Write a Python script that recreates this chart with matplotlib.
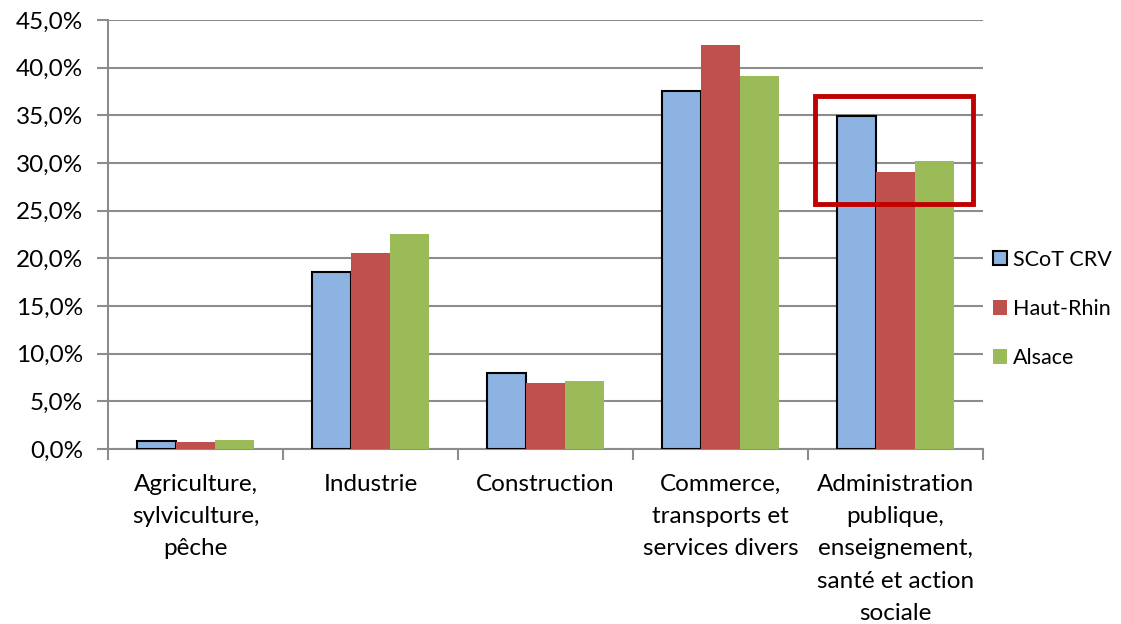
import matplotlib.pyplot as plt
import numpy as np
from matplotlib.patches import Rectangle

# données : part de l'emploi par secteur (%)
categories = ['Agriculture,\nsylviculture,\npêche', 'Industrie', 'Construction',
              'Commerce,\ntransports et\nservices divers',
              'Administration\npublique,\nenseignement,\nsanté et action\nsociale']
scot = [0.8, 18.6, 8.0, 37.6, 34.9]
haut_rhin = [0.7, 20.6, 6.9, 42.4, 29.1]
alsace = [0.9, 22.6, 7.1, 39.1, 30.2]

plt.rcParams['font.family'] = ['Lato', 'DejaVu Sans']

fig = plt.figure(figsize=(11.21, 6.24), dpi=100)
ax = fig.add_axes([0.0963, 0.2804, 0.7806, 0.6875])

x = np.arange(len(categories))
w = 0.223
grid_col = '#8c8c8c'
fs = 17.5

ax.bar(x - w, scot, w, color='#8db3e2', edgecolor='black', linewidth=1.5, label='SCoT CRV', zorder=3)
ax.bar(x, haut_rhin, w, color='#c0504d', label='Haut-Rhin', zorder=3)
ax.bar(x + w, alsace, w, color='#9bbb59', label='Alsace', zorder=3)

ax.set_xlim(-0.5, 4.5)
ax.set_ylim(0, 45)
ax.set_yticks(np.arange(0, 46, 5))
ax.set_yticklabels([f'{v:.1f}%'.replace('.', ',') for v in np.arange(0, 46, 5)], fontsize=fs)
ax.yaxis.grid(True, color=grid_col, linewidth=1.5, zorder=0)

# graduations de l'axe x aux frontières des catégories
ax.set_xticks(np.arange(-0.5, 5, 1))
ax.set_xticklabels([])
ax.set_xticks(x, minor=True)
ax.set_xticklabels(categories, minor=True, fontsize=fs, linespacing=1.66)
ax.tick_params(axis='x', which='minor', length=0, pad=18)
ax.tick_params(axis='x', which='major', length=8, width=1.5, color=grid_col)
ax.tick_params(axis='y', length=8, width=1.5, color=grid_col, pad=10)

for s in ['top', 'right']:
    ax.spines[s].set_visible(False)
for s in ['left', 'bottom']:
    ax.spines[s].set_color(grid_col)
    ax.spines[s].set_linewidth(1.5)

# cadre rouge autour du dernier groupe
ax.add_patch(Rectangle((3.54, 25.7), 0.90, 11.3, fill=False, edgecolor='#c00000',
                       linewidth=3.5, zorder=5, clip_on=False))

ax.legend(loc='center left', bbox_to_anchor=(0.872, 0.505), bbox_transform=fig.transFigure,
          frameon=False, fontsize=15.5, handlelength=0.65, handleheight=0.65,
          handletextpad=0.3, labelspacing=1.35, borderpad=0.2)

fig.savefig('out.png', dpi=100)
